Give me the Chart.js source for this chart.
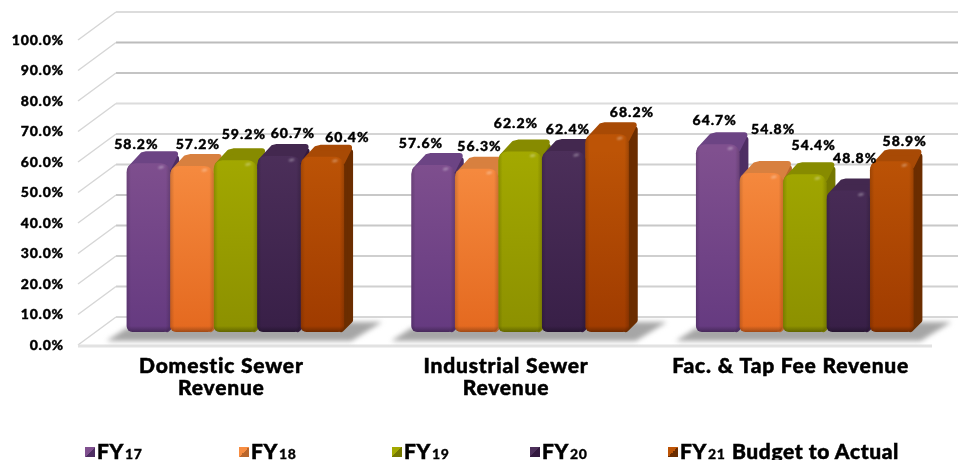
<!DOCTYPE html>
<html>
<head>
<meta charset="utf-8">
<script src="https://cdn.jsdelivr.net/npm/chart.js@4"></script>
<style>
  html, body { margin: 0; padding: 0; background: #fff; overflow: hidden; }
  #wrap { position: relative; width: 958px; height: 460px; }
  #legend { position: absolute; left: 0; top: 0; width: 958px; height: 460px; font-family: Lato, sans-serif; font-weight: 900; color: #000; }
  .item { position: absolute; top: 439px; white-space: nowrap; font-size: 21px; line-height: 24px; letter-spacing: .6px; -webkit-text-stroke: .5px #000; }
  .item small { font-size: 14px; margin-left: 1px; margin-right: 1px; -webkit-text-stroke: .3px #000; }
  .swatch { position: absolute; top: 8px; left: -12px; width: 10px; height: 10px; }
</style>
</head>
<body>
<div id="wrap">
  <canvas id="chart" width="958" height="460"></canvas>
  <div id="legend"></div>
</div>
<script>
// Revenue categories and fiscal-year series, in percent
const categories = [["Domestic Sewer", "Revenue"], ["Industrial Sewer", "Revenue"], "Fac. & Tap Fee Revenue"];
const fy17 = [58.2, 57.6, 64.7];
const fy18 = [57.2, 56.3, 54.8];
const fy19 = [59.2, 62.2, 54.4];
const fy20 = [60.7, 62.4, 48.8];
const fy21 = [60.4, 68.2, 58.9];
const seriesNames = [["FY", "17", ""], ["FY", "18", ""], ["FY", "19", ""], ["FY", "20", ""], ["FY", "21", " Budget to Actual"]];

// Face colours per series: front top, front bottom, roof, side
const faces = [
  ["#80508f", "#653a80", "#6c4484", "#4e2e63"],
  ["#f78d42", "#e4691f", "#d8803f", "#b9662c"],
  ["#a3a900", "#8c9000", "#878b00", "#747700"],
  ["#4c2f5a", "#381f47", "#43284f", "#33193f"],
  ["#bd5406", "#9f3b00", "#a84a05", "#6b2d00"]
];
// Nudges that keep the value labels from colliding: [dx, dy] per series, per category
const labelNudges = [
  [[-12, -19], [-12, -21], [-3, -24]],
  [[6, -22], [3, -22], [12, -44]],
  [[8.5, -26], [-4, -28], [9, -29]],
  [[14, -22], [4.5, -22], [7, -32]],
  [[25, -19], [25, -22], [13, -20]]
];
// Back-wall gridline greys, from 0% up to 100%
const wallGreys = ["#d8d8d8", "#d0d0d0", "#cfcfcf", "#c8c8c8", "#c8c8c8", "#d0d0d0", "#d4d4d4", "#dcdcdc", "#c4c4c4", "#bcbcbc", "#dcdcdc"];

const WALL_DX = 38, WALL_DY = -28;   // floor depth, front edge to back wall
const BAR_DX = 9, BAR_DY = -12;      // bar depth
const FONT = "Lato, sans-serif";

function barsOf(chart) {
  return chart.data.datasets.map((d, i) => chart.getDatasetMeta(i).data);
}

function roundedPoly(ctx, pts, fill) {
  ctx.beginPath();
  pts.forEach((p, i) => i ? ctx.lineTo(p[0], p[1]) : ctx.moveTo(p[0], p[1]));
  ctx.closePath();
  ctx.fillStyle = fill;
  ctx.strokeStyle = fill;
  ctx.lineWidth = 6;
  ctx.lineJoin = "round";
  ctx.fill();
  ctx.stroke();
}

const scenery = {
  id: "scenery",
  // Canvas text spacing has to be in place before the axes are painted
  beforeDraw(chart) {
    chart.ctx.letterSpacing = "0.8px";
  },
  // Walls, floor and floor shadows sit behind the bars
  beforeDatasetsDraw(chart) {
    const { ctx, chartArea: a, scales: { y } } = chart;
    const frontL = a.left - 15, frontR = 932;
    ctx.save();
    y.ticks.forEach((t, i) => {
      const py = y.getPixelForValue(t.value);
      ctx.strokeStyle = wallGreys[i];
      ctx.lineWidth = 2;
      ctx.beginPath();
      ctx.moveTo(frontL + WALL_DX, py + WALL_DY);
      ctx.lineTo(958, py + WALL_DY);
      ctx.stroke();
      ctx.strokeStyle = "#d6d6d6";
      ctx.lineWidth = 1.5;
      ctx.beginPath();
      ctx.moveTo(frontL, py);
      ctx.lineTo(frontL + WALL_DX, py + WALL_DY);
      ctx.stroke();
    });
    // Front edge of the floor
    const y0 = y.getPixelForValue(0);
    ctx.strokeStyle = "#e2e2e2";
    ctx.lineWidth = 3;
    ctx.beginPath();
    ctx.moveTo(frontL, y0 + 1);
    ctx.lineTo(frontR, y0 + 1);
    ctx.stroke();

    // Soft shadow cast on the floor by each group of bars
    const sets = barsOf(chart);
    const base = sets[0][0].base;
    categories.forEach((c, i) => {
      const l = sets[0][i].x - sets[0][i].width / 2;
      const r = sets[4][i].x + sets[4][i].width / 2;
      ctx.save();
      ctx.filter = "blur(2.5px)";
      ctx.fillStyle = "#a6a6a6";
      ctx.beginPath();
      ctx.moveTo(l - 20, base + 9);
      ctx.lineTo(r + 7, base + 9);
      ctx.lineTo(r + 38, base - 10);
      ctx.lineTo(r, base - 10);
      ctx.lineTo(l, base - 4);
      ctx.closePath();
      ctx.fill();
      ctx.restore();
    });

    // Roofs and right-hand sides, painted left to right so neighbours overlap correctly
    categories.forEach((c, i) => {
      sets.forEach((bars, s) => {
        const b = bars[i];
        const l = b.x - b.width / 2, r = b.x + b.width / 2;
        const top = b.y, bot = b.base;
        roundedPoly(ctx, [[r - 3, top + 6], [r + BAR_DX - 3, top + BAR_DY + 7], [r + BAR_DX - 3, bot + BAR_DY], [r - 3, bot - 3]], faces[s][3]);
        roundedPoly(ctx, [[l + 4, top + 5], [l + BAR_DX + 7, top + BAR_DY + 4], [l + BAR_DX + 11, top + BAR_DY + 3], [r + BAR_DX - 4, top + BAR_DY + 3], [r - 2, top + 5]], faces[s][2]);
      });
    });
    ctx.restore();
  },
  // Bevel shading on the front faces, then the value labels
  afterDatasetsDraw(chart) {
    const { ctx } = chart;
    const sets = barsOf(chart);
    ctx.save();
    sets.forEach((bars, s) => bars.forEach((b) => {
      const l = b.x - b.width / 2, top = b.y, h = b.base - b.y;
      ctx.save();
      ctx.beginPath();
      ctx.roundRect(l, top, b.width, h, [9, 9, 6, 6]);
      ctx.clip();
      const g = ctx.createLinearGradient(l, 0, l + b.width, 0);
      g.addColorStop(0, "rgba(0,0,0,.16)");
      g.addColorStop(.1, "rgba(0,0,0,0)");
      g.addColorStop(.9, "rgba(0,0,0,0)");
      g.addColorStop(1, "rgba(0,0,0,.16)");
      ctx.fillStyle = g;
      ctx.fillRect(l, top, b.width, h);
      const g2 = ctx.createLinearGradient(0, b.base - 6, 0, b.base);
      g2.addColorStop(0, "rgba(0,0,0,0)");
      g2.addColorStop(1, "rgba(0,0,0,.3)");
      ctx.fillStyle = g2;
      ctx.fillRect(l, b.base - 6, b.width, 6);
      ctx.filter = "blur(1px)";
      ctx.fillStyle = "rgba(255,255,255,.35)";
      ctx.beginPath();
      ctx.ellipse(l + b.width - 9, top + 4, 3, 1.3, -0.2, 0, Math.PI * 2);
      ctx.fill();
      ctx.restore();
    }));
    ctx.font = "900 14px " + FONT;
    ctx.letterSpacing = "1px";
    ctx.fillStyle = "#000";
    ctx.strokeStyle = "#000";
    ctx.lineWidth = 0.4;
    ctx.textAlign = "center";
    ctx.textBaseline = "middle";
    sets.forEach((bars, s) => bars.forEach((b, i) => {
      const v = chart.data.datasets[s].data[i];
      const [dx, dy] = labelNudges[s][i];
      const text = v.toFixed(1) + "%";
      ctx.fillText(text, b.x + dx, b.y + dy);
      ctx.strokeText(text, b.x + dx, b.y + dy);
    }));
    ctx.restore();
  }
};

function frontGradient(s) {
  return (c) => {
    const { chart } = c;
    if (!chart.chartArea) return faces[s][0];
    const g = chart.ctx.createLinearGradient(0, 150, 0, 332);
    g.addColorStop(0, faces[s][0]);
    g.addColorStop(1, faces[s][1]);
    return g;
  };
}

const chart = new Chart(document.getElementById("chart"), {
  type: "bar",
  plugins: [scenery],
  data: {
    labels: categories,
    datasets: [fy17, fy18, fy19, fy20, fy21].map((values, s) => ({
      label: seriesNames[s].join(""),
      data: values,
      yAxisID: "bars",
      backgroundColor: frontGradient(s),
      borderRadius: { topLeft: 9, topRight: 9, bottomLeft: 6, bottomRight: 6 },
      borderSkipped: false,
      barPercentage: 1,
      categoryPercentage: 0.764
    }))
  },
  options: {
    responsive: false,
    animation: false,
    events: [],
    layout: { autoPadding: false, padding: { top: 40, right: 11 } },
    plugins: { legend: { display: false }, tooltip: { enabled: false }, title: { display: false } },
    scales: {
      x: {
        afterFit(s) { s.height = 115; },
        grid: { display: false },
        border: { display: false },
        ticks: {
          autoSkip: false, maxRotation: 0, minRotation: 0,
          labelOffset: -14, padding: 2,
          color: "#000",
          textStrokeColor: "#000", textStrokeWidth: 0.5,
          font: { family: FONT, size: 21, weight: "900", lineHeight: 1.05 }
        }
      },
      // Value axis on the front edge of the floor
      y: {
        min: 0, max: 100,
        afterFit(s) { s.width = 93; },
        grid: { display: false },
        border: { display: false },
        ticks: {
          stepSize: 10,
          padding: 21,
          color: "#000",
          textStrokeColor: "#000", textStrokeWidth: 0.4,
          font: { family: FONT, size: 14, weight: "900" },
          callback: (v) => v.toFixed(1) + "%"
        }
      },
      // The plane the bars stand on, set back from the front edge
      bars: { display: false, min: -4.48, max: 100.69 }
    }
  }
});

// Legend with the fiscal year digits set small
const legendLefts = [97, 251, 404, 542, 680];
const legend = document.getElementById("legend");
seriesNames.forEach((n, s) => {
  const item = document.createElement("div");
  item.className = "item";
  item.style.left = legendLefts[s] + "px";
  const sw = document.createElement("span");
  sw.className = "swatch";
  sw.style.background = "linear-gradient(135deg," + faces[s][0] + " 50%," + faces[s][3] + " 50%)";
  item.appendChild(sw);
  item.appendChild(document.createTextNode(n[0]));
  const sm = document.createElement("small");
  sm.textContent = n[1];
  item.appendChild(sm);
  if (n[2]) item.appendChild(document.createTextNode(n[2]));
  legend.appendChild(item);
});
</script>
</body>
</html>
